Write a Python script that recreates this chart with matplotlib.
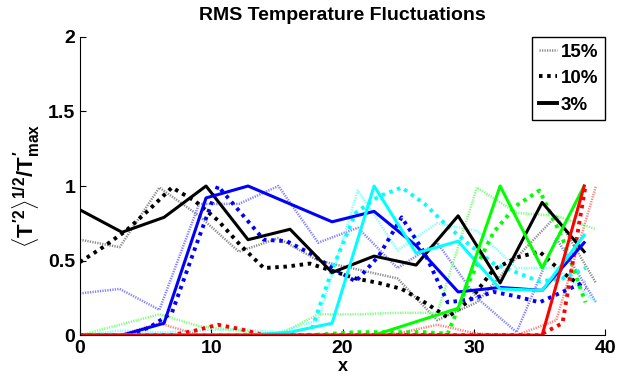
import numpy as np
from matplotlib import pyplot as plt
from matplotlib.lines import Line2D

plt.rcParams['font.family'] = ['Liberation Sans', 'DejaVu Sans']
plt.rcParams['font.weight'] = 'bold'
plt.rcParams['mathtext.fontset'] = 'custom'
plt.rcParams['mathtext.rm'] = 'Liberation Sans:bold'
plt.rcParams['mathtext.it'] = 'Liberation Sans:bold'
plt.rcParams['mathtext.bf'] = 'Liberation Sans:bold'

# x grids of the three runs
x3 = np.arange(13) * 3.2
x10 = np.arange(23) * 1.75
x15 = np.linspace(0, 39.3, 14)

# 3% (solid)
k3 = [0.84, 0.69, 0.79, 1.0, 0.64, 0.71, 0.42, 0.53, 0.47, 0.80, 0.35, 0.89, 0.56]
b3 = [0, 0, 0.08, 0.92, 1.0, 0.88, 0.76, 0.83, 0.60, 0.29, 0.32, 0.30, 0.62]
c3 = [0, 0, 0, 0, 0, 0.02, 0.08, 1.0, 0.55, 0.63, 0.31, 0.30, 0.67]
g3 = [0, 0, 0, 0, 0, 0, 0, 0, 0.09, 0.18, 1.0, 0.45, 1.0]
r3 = [0, 0, 0, 0, 0, 0, 0, 0, 0, 0, 0, 0, 1.0]

# 10% (thick dotted)
k10 = [0.49, 0.59, 0.70, 0.84, 0.99, 0.90, 0.77, 0.60, 0.45, 0.46, 0.48, 0.43,
       0.38, 0.35, 0.31, 0.22, 0.12, 0.24, 0.44, 0.52, 0.56, 0.42, 0.31]
b10 = [0, 0, 0, 0.05, 0.15, 0.58, 1.0, 0.82, 0.64, 0.63, 0.55, 0.45,
       0.36, 0.53, 0.79, 0.55, 0.22, 0.24, 0.29, 0.26, 0.22, 0.29, 0.36]
c10 = [0, 0, 0, 0, 0, 0, 0, 0, 0, 0, 0, 0.45,
       0.82, 0.93, 0.99, 0.88, 0.73, 0.60, 0.48, 0.42, 0.36, 0.38, 0.45]
g10 = [0, 0, 0, 0, 0, 0, 0, 0, 0, 0, 0, 0.01,
       0.02, 0.02, 0.02, 0.02, 0.01, 0.38, 0.69, 0.87, 0.97, 0.65, 0.22]
r10 = [0, 0, 0, 0, 0, 0.03, 0.07, 0.04, 0, 0, 0, 0,
       0, 0, 0, 0, 0, 0, 0, 0, 0, 0.08, 1.0]

# 15% (thin light dotted)
k15 = [0.64, 0.59, 0.99, 0.80, 0.56, 0.65, 0.50, 0.44, 0.38, 0.10, 0.22, 0.52, 0.80, 0.35]
b15 = [0.28, 0.31, 0.17, 0.88, 0.88, 1.0, 0.62, 0.72, 0.45, 0.62, 0.25, 0.02, 0.65, 0.22]
c15 = [0.0, 0.03, 0.02, 0.03, 0.04, 0.02, 0.10, 0.97, 0.57, 0.75, 0.70, 0.45, 0.45, 0.22]
g15 = [0.0, 0.07, 0.14, 0.06, 0.03, 0.0, 0.14, 0.14, 0.15, 0.15, 0.99, 0.82, 0.80, 0.71]
r15 = [0, 0, 0.08, 0, 0, 0, 0, 0, 0.01, 0.07, 0.01, 0, 0.10, 1.0]

colors = ['k', '#0000ff', '#00ffff', '#00ff00', '#ff0000']
light = ['#8c8c8c', '#8080ff', '#80ffff', '#80ff80', '#ff8080']

fig = plt.figure(figsize=(6.35, 3.8), dpi=100)
ax = fig.add_axes([0.126, 0.118, 0.827, 0.785])

for y, c in zip([k15, b15, c15, g15, r15], light):
    ax.plot(x15, y, color=c, lw=1.8, ls=(0, (0.5, 0.5)))
for y, c in zip([k10, b10, c10, g10, r10], colors):
    ax.plot(x10, y, color=c, lw=2.8, ls=(0, (0.9, 1.2)))
for y, c in zip([k3, b3, c3, g3, r3], colors):
    ax.plot(x3, y, color=c, lw=2.2)

ax.set_xlim(0, 40)
ax.set_ylim(0, 2)
ax.set_xticks([0, 10, 20, 30, 40])
ax.set_yticks([0, 0.5, 1, 1.5, 2])
ax.set_yticklabels(['0', '0.5', '1', '1.5', '2'])
ax.tick_params(direction='in', length=4, labelsize=14, width=0.8)
for lab in ax.get_xticklabels() + ax.get_yticklabels():
    lab.set_fontweight('bold')
ax.spines['top'].set_visible(False)
ax.spines['right'].set_visible(False)

ax.set_title('RMS Temperature Fluctuations', fontsize=14, fontweight='bold', pad=12)
ax.set_xlabel('x', fontsize=13, fontweight='bold', labelpad=1)
ax.set_ylabel(r'$\langle T^{\prime 2}\rangle^{1/2}/T^{\prime}_{max}$', fontsize=16, labelpad=4)

handles = [Line2D([], [], color='#8c8c8c', lw=1.8, ls=(0, (0.5, 0.5))),
           Line2D([], [], color='k', lw=2.8, ls=(0, (0.9, 1.2))),
           Line2D([], [], color='k', lw=2.8)]
leg = ax.legend(handles, ['15%', '10%', '3%'], loc='upper right',
                bbox_to_anchor=(1.0, 1.0), fancybox=False, framealpha=1,
                edgecolor='k', handlelength=1.0, handletextpad=0.2,
                borderpad=0.35, labelspacing=0.5, borderaxespad=0.0,
                prop={'weight': 'bold', 'size': 13.5})
leg.get_frame().set_linewidth(1.0)

fig.savefig('out.png', dpi=100)
